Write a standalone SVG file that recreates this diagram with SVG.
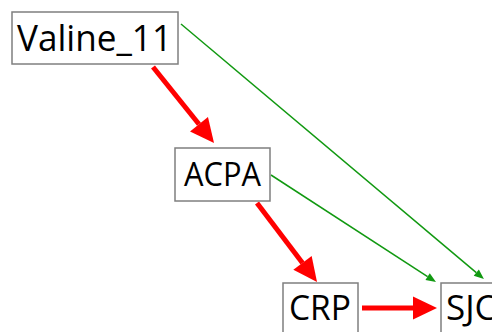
<svg xmlns="http://www.w3.org/2000/svg" width="492" height="332" viewBox="0 0 492 332">
<style>
.box{fill:#fff;stroke:#7f7f7f;stroke-width:1.5}
.lbl{font-family:"Open Sans","Noto Sans",sans-serif;fill:#000}
.red{stroke:#ff0000;stroke-width:5;fill:none}
.grn{stroke:#119911;stroke-width:1.5;fill:none}
</style>
<defs>
<marker id="rh" markerUnits="userSpaceOnUse" markerWidth="24" markerHeight="24" refX="0" refY="11.5" orient="auto" overflow="visible">
<path d="M0,0 L24,11.5 L0,23 z" fill="#ff0000"/>
</marker>
<marker id="gh" markerUnits="userSpaceOnUse" markerWidth="10" markerHeight="8" refX="0" refY="4" orient="auto" overflow="visible">
<path d="M0,0 L10,4 L0,8 z" fill="#119911"/>
</marker>
</defs>
<g id="connectors">
<line class="grn" x1="181" y1="24" x2="476.3" y2="272.6" marker-end="url(#gh)"/>
<line class="grn" x1="271" y1="175" x2="427.6" y2="276.6" marker-end="url(#gh)"/>
<line class="red" x1="153" y1="67" x2="199" y2="124.3" marker-end="url(#rh)"/>
<line class="red" x1="257" y1="203" x2="302.5" y2="262.9" marker-end="url(#rh)"/>
<line class="red" x1="362" y1="308" x2="413" y2="308" marker-end="url(#rh)"/>
</g>
<g id="valine">
<rect class="box" x="12" y="12" width="166" height="52"/>
<text class="lbl" x="17" y="51" font-size="36" textLength="155" lengthAdjust="spacingAndGlyphs">Valine_11</text>
</g>
<g id="acpa">
<rect class="box" x="175" y="148" width="95" height="53"/>
<text class="lbl" x="184" y="186" font-size="33" textLength="77" lengthAdjust="spacingAndGlyphs">ACPA</text>
</g>
<g id="crp">
<rect class="box" x="283" y="283" width="75" height="60"/>
<text class="lbl" x="289" y="320" font-size="35" textLength="62" lengthAdjust="spacingAndGlyphs">CRP</text>
</g>
<g id="sjc">
<rect class="box" x="441" y="283" width="70" height="60"/>
<text class="lbl" x="446" y="320" font-size="35">SJC</text>
</g>
</svg>
